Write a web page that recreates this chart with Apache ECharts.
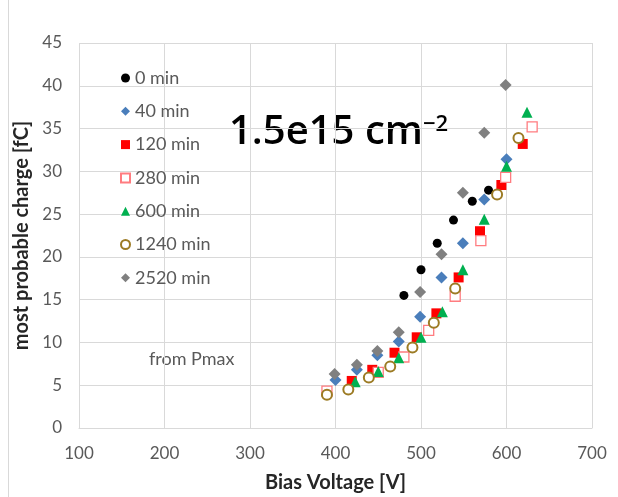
<!DOCTYPE html>
<html>
<head>
<meta charset="utf-8">
<script src="https://cdn.jsdelivr.net/npm/echarts@6/dist/echarts.min.js"></script>
<style>
  html, body { margin: 0; padding: 0; background: #fff; }
  #chart { width: 618px; height: 497px; }
</style>
</head>
<body>
<div id="chart"></div>
<script>
// most probable charge vs bias voltage, one series per annealing time
const min0 = [[480, 15.5], [500, 18.5], [519, 21.6], [538, 24.3], [560, 26.5], [579, 27.8]]
const min40 = [[400, 5.6], [425, 6.8], [449, 8.5], [474, 10.1], [499, 13.0], [524, 17.6], [549, 21.6], [574, 26.7], [600, 31.4]]
const min120 = [[419, 5.5], [443, 6.8], [469, 8.8], [495, 10.6], [518, 13.4], [544, 17.6], [569, 23.0], [594, 28.4], [619, 33.2]]
const min280 = [[390, 4.3], [450, 6.5], [480, 8.3], [509, 11.4], [540, 15.4], [570, 21.9], [599, 29.3], [630, 35.2]]
const min600 = [[423, 5.4], [450, 6.6], [474, 8.2], [500, 10.6], [525, 13.6], [549, 18.5], [574, 24.4], [600, 30.6], [624, 36.9]]
const min1240 = [[390, 3.9], [415, 4.5], [439, 5.9], [464, 7.2], [490, 9.4], [515, 12.3], [540, 16.3], [589, 27.3], [614, 33.9]]
const min2520 = [[399, 6.3], [425, 7.4], [449, 9.0], [474, 11.2], [499, 15.9], [524, 20.3], [549, 27.5], [574, 34.5], [599, 40.1]]

const names = ['0 min', '40 min', '120 min', '280 min', '600 min', '1240 min', '2520 min']
const FONT = 'Lato, "Open Sans", sans-serif'
const GRID = '#d9d9d9'
const LABEL = '#595959'

const chart = echarts.init(document.getElementById('chart'), null, { renderer: 'canvas' })

function sc(name, data, symbol, size, style) {
  return {
    name, type: 'scatter', data, symbol, symbolSize: size,
    itemStyle: { opacity: 1, ...style },
    emphasis: { disabled: true },
    animation: false,
  }
}

chart.setOption({
  backgroundColor: '#fff',
  textStyle: { fontFamily: FONT },
  grid: { left: 79, right: 26, top: 43, bottom: 69, outerBoundsMode: 'none' },
  legend: {
    orient: 'vertical', left: 115, top: 64,
    itemWidth: 9, itemHeight: 9, itemGap: 15.3,
    data: names,
    textStyle: { fontSize: 18, color: LABEL, fontFamily: FONT, lineHeight: 18 },
  },
  xAxis: {
    type: 'value', min: 100, max: 700, interval: 100,
    name: 'Bias Voltage [V]', nameLocation: 'middle', nameGap: 45,
    nameTextStyle: { fontSize: 20, fontWeight: 'bold', color: '#262626', fontFamily: FONT },
    axisLine: { lineStyle: { color: GRID } },
    axisTick: { show: false },
    axisLabel: { fontSize: 17, color: LABEL, margin: 17 },
    splitLine: { lineStyle: { color: GRID } },
  },
  yAxis: {
    type: 'value', min: 0, max: 45, interval: 5,
    name: 'most probable charge [fC]', nameLocation: 'middle', nameGap: 41,
    nameTextStyle: { fontSize: 20, fontWeight: 'bold', color: '#262626', fontFamily: FONT },
    axisLine: { show: false },
    axisTick: { show: false },
    axisLabel: { fontSize: 17, color: LABEL, margin: 17 },
    splitLine: { lineStyle: { color: GRID } },
  },
  graphic: [
    { type: 'line', shape: { x1: 8.5, y1: 0, x2: 8.5, y2: 497 }, style: { stroke: GRID, lineWidth: 1 } },
    { type: 'text', left: 229, top: 113, style: { text: '1.5e15 cm', fontSize: 40, fontWeight: 600, fill: '#000', fontFamily: '"Open Sans", sans-serif' } },
    { type: 'text', left: 423, top: 114, style: { text: '−2', fontSize: 22, fontWeight: 600, fill: '#000', fontFamily: '"Open Sans", sans-serif' } },
    { type: 'text', left: 149, top: 350, style: { text: 'from Pmax', fontSize: 18, fill: LABEL, fontFamily: FONT } },
  ],
  series: [
    sc(names[0], min0, 'circle', 9, { color: '#000' }),
    sc(names[1], min40, 'diamond', 12, { color: '#4a7ebb' }),
    sc(names[2], min120, 'rect', 10, { color: '#ff0000' }),
    sc(names[3], min280, 'rect', 10, { color: '#fff', borderColor: '#ff7c80', borderWidth: 1.3 }),
    sc(names[4], min600, 'triangle', 11, { color: '#00b050' }),
    sc(names[5], min1240, 'circle', 10, { color: '#fff', borderColor: '#9c7b24', borderWidth: 2 }),
    sc(names[6], min2520, 'diamond', 12, { color: '#808080' }),
  ],
})
</script>
</body>
</html>
